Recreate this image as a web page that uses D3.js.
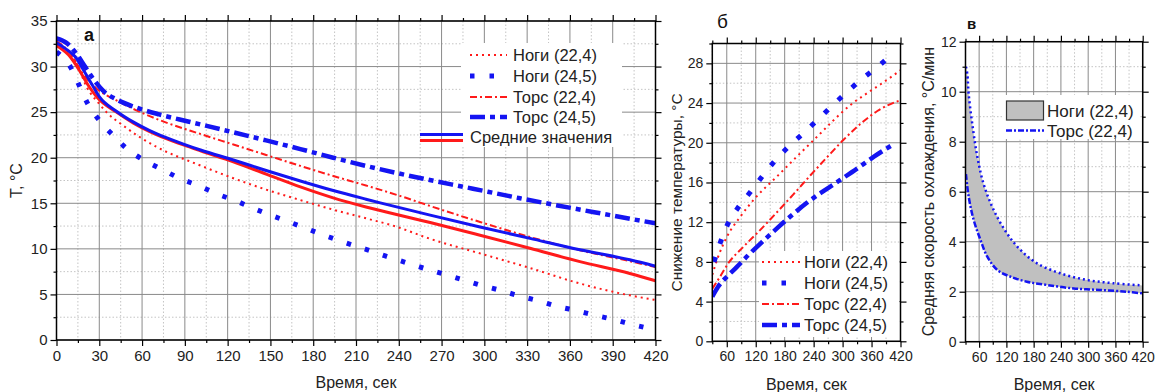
<!DOCTYPE html>
<html>
<head>
<meta charset="utf-8">
<script src="https://cdn.jsdelivr.net/npm/d3@7"></script>
<style>
  body { margin: 0; background: #fff; }
  svg { display: block; font-family: "Liberation Sans", Arial, sans-serif; }
</style>
</head>
<body>
<svg id="chart" width="1155" height="392"></svg>
<script>
// ---- panel а: temperature, °C ----
var tNogi224A = [0, 14, 21, 30, 35, 47, 58, 70, 100, 124, 147, 170, 194, 217, 236, 262, 297, 332, 367, 402, 420];
var vNogi224A = [32.3, 30.4, 27.8, 25.9, 25.0, 23.5, 22.3, 21.2, 19.2, 17.75, 16.5, 15.4, 14.3, 13.35, 12.55, 11.1, 9.5, 7.9, 6.2, 4.9, 4.4];

var tNogi245A = [0, 10, 16, 22, 30, 40, 50, 61, 74, 87, 100, 113, 126, 138, 151, 164, 178, 191, 204, 217, 231, 243, 257, 270, 283, 297, 310, 324, 338, 351, 365, 378, 392, 405, 419];
var vNogi245A = [31.6, 29.9, 27.9, 25.9, 24.1, 22.4, 20.9, 19.75, 18.7, 17.7, 16.9, 16.0, 15.25, 14.45, 13.65, 12.9, 12.07, 11.3, 10.6, 9.95, 9.2, 8.6, 7.9, 7.3, 6.7, 6.03, 5.5, 4.86, 4.3, 3.7, 3.2, 2.7, 2.2, 1.65, 1.17];

var tTors224A = [0, 9, 19, 28, 42, 56, 77, 100, 124, 147, 171, 194, 217, 245, 262, 297, 332, 367, 402, 420];
var vTors224A = [32.8, 31.6, 29.1, 27.6, 26.3, 25.2, 23.85, 22.65, 21.45, 20.3, 19.1, 18.0, 16.95, 15.6, 14.7, 12.95, 11.3, 9.85, 8.65, 8.0];

var tTors245A = [0, 7, 14, 20, 26, 33, 42, 56, 72, 93, 117, 147, 171, 194, 217, 245, 292, 325, 376, 420];
var vTors245A = [33.1, 32.6, 31.4, 30.0, 28.6, 27.3, 26.4, 25.5, 24.75, 23.95, 23.05, 21.9, 20.95, 20.0, 19.1, 18.1, 16.6, 15.55, 14.05, 12.8];

var tMeanBlueA = [0, 6, 13, 19, 25, 30, 42, 54, 65, 77, 89, 101, 124, 147, 171, 194, 217, 227, 262, 297, 332, 367, 402, 420];
var vMeanBlueA = [32.6, 32.0, 31.1, 29.6, 28.0, 26.7, 25.1, 23.9, 23.0, 22.2, 21.5, 20.85, 19.75, 18.6, 17.45, 16.4, 15.45, 15.05, 13.7, 12.4, 11.15, 9.9, 8.8, 8.1];

var tMeanRedA = [0, 10, 16, 22, 28, 42, 54, 65, 77, 89, 101, 124, 147, 171, 194, 217, 227, 262, 297, 332, 367, 402, 420];
var vMeanRedA = [32.3, 31.0, 29.6, 28.0, 26.7, 25.0, 23.8, 22.9, 22.1, 21.4, 20.75, 19.55, 18.2, 16.8, 15.6, 14.6, 14.2, 12.9, 11.5, 10.06, 8.6, 7.3, 6.5];

// ---- panel б: temperature drop, °C ----
var tNogi224B = [30, 42, 60, 88, 122, 164, 205, 247, 282, 316, 351, 385, 420];
var vNogi224B = [6.7, 8.5, 10.5, 12.55, 14.6, 16.6, 18.6, 20.6, 22.3, 23.8, 25.0, 26.1, 27.3];

var tNogi245B = [33.5, 47, 63, 85.5, 110, 135, 162, 190, 221, 250, 280, 311, 342, 375, 406];
var vNogi245B = [8.0, 10.0, 11.9, 13.6, 15.1, 16.7, 18.3, 19.7, 21.05, 22.4, 23.8, 25.2, 26.5, 27.75, 29.06];

var tTors224B = [30, 46, 63, 94, 129, 164, 198, 233, 268, 302, 337, 372, 420];
var vTors224B = [5.3, 6.5, 7.85, 9.5, 11.2, 13.0, 14.8, 16.7, 18.55, 20.3, 21.9, 23.2, 24.3];

var tTors245B = [30, 42, 60, 81, 105, 133, 160, 191, 226, 261, 295, 330, 365, 406];
var vTors245B = [4.5, 5.5, 6.5, 7.5, 8.7, 10.0, 11.2, 12.55, 13.95, 15.15, 16.25, 17.4, 18.6, 19.87];

// ---- panel в: mean cooling rate, °C/мин ----
var tUpperC = [31, 34, 37, 45, 56, 70, 92, 121, 151, 187, 238, 297, 355, 420];
var vUpperC = [11.0, 10.7, 9.9, 8.7, 7.4, 6.3, 5.27, 4.34, 3.67, 3.14, 2.74, 2.47, 2.34, 2.25];
var tLowerC = [31, 37, 48, 63, 78, 100, 129, 165, 209, 268, 326, 385, 420];
var vLowerC = [6.7, 5.8, 4.87, 4.07, 3.4, 2.87, 2.6, 2.4, 2.27, 2.13, 2.07, 2.0, 1.93];

// ---- labels ----
var legendA = ['Ноги (22,4)', 'Ноги (24,5)', 'Торс (22,4)', 'Торс (24,5)', 'Средние значения'];
var legendB = ['Ноги (22,4)', 'Ноги (24,5)', 'Торс (22,4)', 'Торс (24,5)'];
var legendC = ['Ноги (22,4)', 'Торс (22,4)'];
var xTitle = 'Время, сек';
var yTitleA = 'T, °C';
var yTitleB = 'Снижение температуры, °C';
var yTitleC = 'Средняя скорость охлаждения, °C/мин';

var BLUE = '#1414f2';
var RED = '#ff1a1a';

var styles = {
  nogi224: {color: RED, width: 2, dash: '2,4'},
  nogi245: {color: BLUE, width: 5, dash: '4.5,14.5'},
  tors224: {color: RED, width: 2, dash: '7,3,2,3'},
  tors245: {color: BLUE, width: 4.5, dash: '15,5,5,5'},
  meanBlue: {color: BLUE, width: 3},
  meanRed: {color: RED, width: 3}
};

var svg = d3.select('#chart');

function range(a, b, s) {
  return d3.range(a, b + s / 2, s);
}

function panel(p) {
  var x = d3.scaleLinear().domain(p.xDomain).range([p.left, p.right]);
  var y = d3.scaleLinear().domain(p.yDomain).range([p.bottom, p.top]);
  var w = p.right - p.left;
  var h = p.bottom - p.top;
  var g = svg.append('g');

  g.append('clipPath').attr('id', p.id + 'Clip')
    .append('rect').attr('x', p.left).attr('y', p.top).attr('width', w).attr('height', h);

  var xMinor = p.xMinor.filter(function(v) { return p.xMajor.indexOf(v) < 0; });
  var yMinor = p.yMinor.filter(function(v) { return p.yMajor.indexOf(v) < 0; });

  // grid
  var grid = g.append('g');
  grid.selectAll('line.xm').data(xMinor).enter().append('line')
    .attr('x1', x).attr('x2', x).attr('y1', p.top).attr('y2', p.bottom)
    .attr('stroke', '#c4c4c4').attr('stroke-dasharray', '1.5,2');
  grid.selectAll('line.ym').data(yMinor).enter().append('line')
    .attr('y1', y).attr('y2', y).attr('x1', p.left).attr('x2', p.right)
    .attr('stroke', '#c4c4c4').attr('stroke-dasharray', '1.5,2');
  grid.selectAll('line.xM').data(p.xMajor).enter().append('line')
    .attr('x1', x).attr('x2', x).attr('y1', p.top).attr('y2', p.bottom)
    .attr('stroke', '#8a8a8a').attr('stroke-width', 1);
  grid.selectAll('line.yM').data(p.yMajor).enter().append('line')
    .attr('y1', y).attr('y2', y).attr('x1', p.left).attr('x2', p.right)
    .attr('stroke', '#8a8a8a').attr('stroke-width', 1);

  var plot = g.append('g').attr('clip-path', 'url(#' + p.id + 'Clip)');

  var axes = g.append('g');
  function styleAxis(a) {
    a.select('.domain').remove();
    a.selectAll('line').attr('stroke', '#000').attr('stroke-width', 1.2);
    a.attr('font-family', null).attr('font-size', p.tickFont).selectAll('text').attr('fill', '#222');
  }
  var fmt = d3.format('d');
  axes.append('g').attr('transform', 'translate(0,' + p.bottom + ')')
    .call(d3.axisBottom(x).tickValues(p.xLabels).tickSize(6).tickPadding(4).tickFormat(fmt)).call(styleAxis);
  axes.append('g').attr('transform', 'translate(0,' + p.bottom + ')')
    .call(d3.axisBottom(x).tickValues(xMinor).tickSize(3).tickFormat('')).call(styleAxis);
  axes.append('g').attr('transform', 'translate(0,' + p.top + ')')
    .call(d3.axisTop(x).tickValues(p.xMajor).tickSize(6).tickFormat('')).call(styleAxis);
  axes.append('g').attr('transform', 'translate(0,' + p.top + ')')
    .call(d3.axisTop(x).tickValues(xMinor).tickSize(3).tickFormat('')).call(styleAxis);
  axes.append('g').attr('transform', 'translate(' + p.left + ',0)')
    .call(d3.axisLeft(y).tickValues(p.yMajor).tickSize(6).tickPadding(3).tickFormat(fmt)).call(styleAxis);
  axes.append('g').attr('transform', 'translate(' + p.left + ',0)')
    .call(d3.axisLeft(y).tickValues(yMinor).tickSize(3).tickFormat('')).call(styleAxis);
  axes.append('g').attr('transform', 'translate(' + p.right + ',0)')
    .call(d3.axisRight(y).tickValues(p.yMajor).tickSize(6).tickFormat('')).call(styleAxis);
  axes.append('g').attr('transform', 'translate(' + p.right + ',0)')
    .call(d3.axisRight(y).tickValues(yMinor).tickSize(3).tickFormat('')).call(styleAxis);

  // titles
  g.append('text').attr('x', (p.left + p.right) / 2).attr('y', p.xTitleY)
    .attr('text-anchor', 'middle').attr('font-size', 16).attr('fill', '#222').text(xTitle);
  g.append('text').attr('transform', 'translate(' + p.yTitleX + ',' + ((p.top + p.bottom) / 2) + ') rotate(-90)')
    .attr('text-anchor', 'middle').attr('font-size', p.yTitleFont).attr('fill', '#222').text(p.yTitle);
  g.append('text').attr('x', p.tagX).attr('y', p.tagY).attr('font-size', p.tagFont)
    .attr('font-weight', p.tagBold ? 'bold' : 'normal').attr('fill', '#111').text(p.tag);

  return {x: x, y: y, g: g, plot: plot, axes: axes, p: p};
}

function series(pn, ts, vs, st, curve) {
  var pts = ts.map(function(t, i) { return [t, vs[i]]; });
  var line = d3.line()
    .x(function(d) { return pn.x(d[0]); })
    .y(function(d) { return pn.y(d[1]); })
    .curve(curve || d3.curveMonotoneX);
  pn.plot.append('path').datum(pts)
    .attr('d', line)
    .attr('fill', 'none')
    .attr('stroke', st.color)
    .attr('stroke-width', st.width)
    .attr('stroke-dasharray', st.dash || null);
  return line;
}

function frame(pn) {
  var p = pn.p;
  pn.g.append('rect').attr('x', p.left).attr('y', p.top)
    .attr('width', p.right - p.left).attr('height', p.bottom - p.top)
    .attr('fill', 'none').attr('stroke', '#000').attr('stroke-width', 1.5);
}

function legendRow(g, x1, x2, yy, st, label, tx, fs) {
  g.append('line').attr('x1', x1).attr('x2', x2).attr('y1', yy).attr('y2', yy)
    .attr('stroke', st.color).attr('stroke-width', st.width).attr('stroke-dasharray', st.dash || null);
  g.append('text').attr('x', tx).attr('y', yy + 6).attr('font-size', fs || 16.5).attr('fill', '#222').text(label);
}

// ---------- panel а ----------
var pa = panel({
  id: 'pa', left: 56.5, right: 655.5, top: 21, bottom: 340,
  xDomain: [0, 420], yDomain: [0, 35],
  xMajor: range(0, 420, 30), xMinor: range(0, 420, 15), xLabels: range(0, 420, 30),
  yMajor: range(0, 35, 5), yMinor: range(0, 35, 2.5),
  tickFont: 15, xTitleY: 388, yTitle: yTitleA, yTitleX: 22, yTitleFont: 16,
  tag: 'а', tagX: 84, tagY: 41, tagFont: 18, tagBold: true
});
series(pa, tNogi224A, vNogi224A, styles.nogi224);
series(pa, tNogi245A, vNogi245A, styles.nogi245);
series(pa, tTors224A, vTors224A, styles.tors224);
series(pa, tTors245A, vTors245A, styles.tors245);
series(pa, tMeanRedA, vMeanRedA, styles.meanRed);
series(pa, tMeanBlueA, vMeanBlueA, styles.meanBlue);
frame(pa);

var lgA = pa.g.append('g');
lgA.append('rect').attr('x', 461).attr('y', 43).attr('width', 161).attr('height', 104).attr('fill', '#fff');
legendRow(lgA, 470, 507, 55, styles.nogi224, legendA[0], 513);
legendRow(lgA, 470, 507, 76, {color: BLUE, width: 5, dash: '4.5,15'}, legendA[1], 513);
legendRow(lgA, 470, 507, 97, styles.tors224, legendA[2], 513);
legendRow(lgA, 470, 507, 117, styles.tors245, legendA[3], 513);
lgA.append('line').attr('x1', 420).attr('x2', 463).attr('y1', 134.5).attr('y2', 134.5)
  .attr('stroke', BLUE).attr('stroke-width', 3);
lgA.append('line').attr('x1', 420).attr('x2', 463).attr('y1', 140.5).attr('y2', 140.5)
  .attr('stroke', RED).attr('stroke-width', 3);
lgA.append('text').attr('x', 470).attr('y', 143).attr('font-size', 16.5).attr('fill', '#222').text(legendA[4]);

// ---------- panel б ----------
var pb = panel({
  id: 'pb', left: 712.3, right: 900.5, top: 43.5, bottom: 341.3,
  xDomain: [30, 420], yDomain: [0, 30],
  xMajor: range(60, 420, 60), xMinor: range(30, 420, 30), xLabels: range(60, 420, 60),
  yMajor: range(0, 28, 4), yMinor: range(0, 30, 2),
  tickFont: 14, xTitleY: 389.5, yTitle: yTitleB, yTitleX: 682, yTitleFont: 15.5,
  tag: 'б', tagX: 717, tagY: 28, tagFont: 19, tagBold: false
});
series(pb, tNogi224B, vNogi224B, styles.nogi224);
series(pb, tTors224B, vTors224B, styles.tors224);
series(pb, tNogi245B, vNogi245B, {color: BLUE, width: 5, dash: '5,13.8'});
series(pb, tTors245B, vTors245B, styles.tors245);
var lgB = pb.g.append('g');
lgB.append('rect').attr('x', 759).attr('y', 251).attr('width', 140).attr('height', 86).attr('fill', '#fff');
legendRow(lgB, 762, 800, 262, styles.nogi224, legendB[0], 804);
legendRow(lgB, 762, 800, 283, {color: BLUE, width: 5, dash: '4.5,15'}, legendB[1], 804);
legendRow(lgB, 762, 800, 304, styles.tors224, legendB[2], 804);
legendRow(lgB, 762, 800, 325, styles.tors245, legendB[3], 804);
frame(pb);

// ---------- panel в ----------
var pc = panel({
  id: 'pc', left: 965.5, right: 1142.7, top: 41.7, bottom: 341.7,
  xDomain: [30, 420], yDomain: [0, 12],
  xMajor: range(60, 420, 60), xMinor: range(30, 420, 30), xLabels: range(60, 420, 60),
  yMajor: range(0, 12, 2), yMinor: range(0, 12, 1),
  tickFont: 14, xTitleY: 389.5, yTitle: yTitleC, yTitleX: 934, yTitleFont: 16,
  tag: 'в', tagX: 967, tagY: 29, tagFont: 15, tagBold: true
});
var curveC = d3.curveCatmullRom.alpha(0.5);
var upperPts = tUpperC.map(function(t, i) { return [t, vUpperC[i]]; });
var lowerPts = tLowerC.map(function(t, i) { return [t, vLowerC[i]]; }).reverse();
var lineC = d3.line()
  .x(function(d) { return pc.x(d[0]); })
  .y(function(d) { return pc.y(d[1]); })
  .curve(curveC);
pc.plot.append('path')
  .attr('d', lineC(upperPts) + 'L' + lineC(lowerPts).slice(1) + 'Z')
  .attr('fill', '#c0c0c0').attr('stroke', 'none');
series(pc, tUpperC, vUpperC, {color: BLUE, width: 2.5, dash: '2,3'}, curveC);
series(pc, tLowerC, vLowerC, {color: BLUE, width: 2.5, dash: '6,2,2,2'}, curveC);
var lgC = pc.g.append('g');
lgC.append('rect').attr('x', 1003).attr('y', 95).attr('width', 137).attr('height', 44).attr('fill', '#fff');
lgC.append('rect').attr('x', 1006.5).attr('y', 101).attr('width', 37).attr('height', 19)
  .attr('fill', '#c0c0c0').attr('stroke', '#333').attr('stroke-width', 1.2);
lgC.append('text').attr('x', 1047).attr('y', 117).attr('font-size', 17).attr('fill', '#222').text(legendC[0]);
legendRow(lgC, 1006, 1044, 130.5, {color: BLUE, width: 2.5, dash: '6,2,2,2'}, legendC[1], 1047, 17);
frame(pc);
</script>
</body>
</html>
